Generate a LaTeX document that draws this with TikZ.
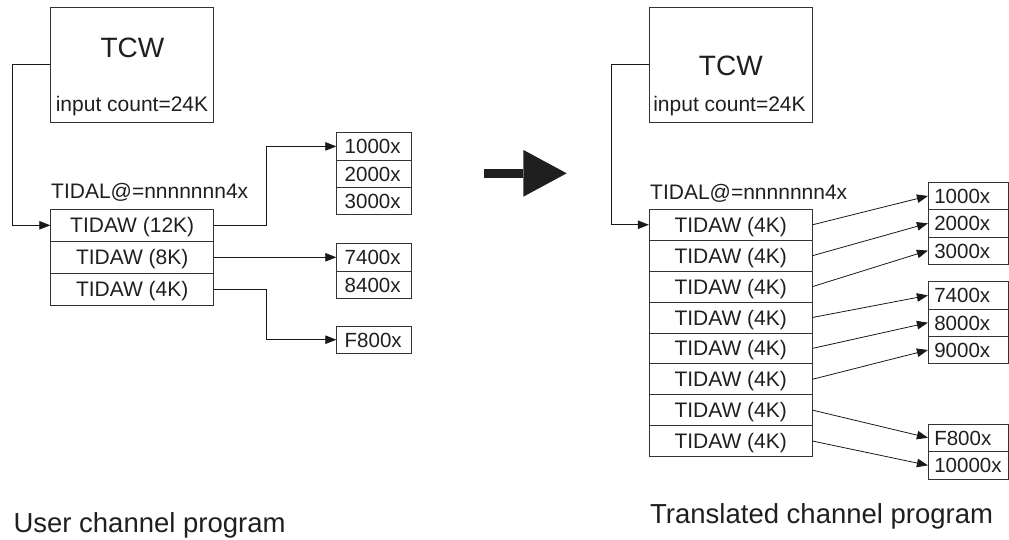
\documentclass[tikz,border=0pt]{standalone}
\usepackage{fontspec}
\setmainfont{Liberation Sans}
\usepackage{tikz}
\usetikzlibrary{arrows.meta}

\begin{document}
\begin{tikzpicture}[x=1pt, y=-1pt,
    txt/.style={font=\fontsize{21pt}{25pt}\selectfont, text=black!88, inner sep=0pt, text height=15.1pt, text depth=0pt},
    tcwname/.style={txt, font=\fontsize{28pt}{32pt}\selectfont, text height=20.2pt},
    caption/.style={txt, font=\fontsize{27.5pt}{32pt}\selectfont, text height=19.8pt},
    tcwbox/.style={draw=black!80, line width=0.8pt, minimum width=163pt, minimum height=114.7pt, inner sep=0pt},
    rowbox/.style={txt, draw=black!80, line width=0.8pt, minimum width=163pt},
    datbox/.style={draw=black!80, line width=0.8pt, font=\fontsize{20.5pt}{24pt}\selectfont, text=black!88, inner ysep=0pt, text height=14.8pt, text depth=0pt, minimum height=27.3pt, align=left},
    dataL/.style={datbox, inner xsep=8pt, text width=59pt},
    dataR/.style={datbox, inner xsep=6pt, text width=68pt},
    link/.style={-{Triangle[length=11pt, width=8.5pt]}, line width=0.8pt, black!90},
    bigarrow/.style={line width=9.4pt, black!88, -{Triangle[length=43.3pt, width=46.7pt, line width=0pt]}}
]
\useasboundingbox (0,0) rectangle (1009,539);

% user channel program
\node[tcwbox] (tcwL) at (132.2,64.7) {};
\node[tcwname] (tcwLname) at (132.5,47.5) {TCW};
\node[txt] (tcwLcount) at (132,103.8) {input count=24K};
\node[txt, anchor=west] (tidalL) at (51,191.2) {TIDAL@=nnnnnnn4x};
\foreach \i/\t in {1/TIDAW (12K), 2/TIDAW (8K), 3/TIDAW (4K)} { \node[rowbox, minimum height=32pt] (rowL\i) at (132.2,{209.3+32*\i-16}) {\t}; }
\foreach \i/\t/\y in {1/1000x/146.4, 2/2000x/173.7, 3/3000x/201, 4/7400x/257.3, 5/8400x/284.6, 6/F800x/339.7} { \node[dataL] (dL\i) at (374.2,\y) {\t}; }

\draw[link] (tcwL.west) -- ++(-38,0) |- (rowL1.west);
\draw[link] (rowL1.east) -- ++(52.3,0) |- (dL1.west);
\draw[link] (rowL2.east) -- (dL4.west);
\draw[link] (rowL3.east) -- ++(52.3,0) |- (dL6.west);

\node[caption, anchor=west] (capL) at (13.3,522.5) {User channel program};

% translation
\coordinate (bigfrom) at (484,173.3);
\coordinate (bigto) at (566.7,173.3);
\draw[bigarrow] (bigfrom) -- (bigto);

% translated channel program
\node[tcwbox] (tcwR) at (731,64.7) {};
\node[tcwname] (tcwRname) at (730.8,65) {TCW};
\node[txt] (tcwRcount) at (729.5,103.8) {input count=24K};
\node[txt, anchor=west] (tidalR) at (650,192.2) {TIDAL@=nnnnnnn4x};
\foreach \i in {1,...,8} { \node[rowbox, minimum height=30.9pt] (rowR\i) at (730.7,{209.3+30.9*\i-15.45}) {TIDAW (4K)}; }
\foreach \i/\t/\y in {1/1000x/196, 2/2000x/223.3, 3/3000x/250.6, 4/7400x/295.4, 5/8000x/322.7, 6/9000x/350, 7/F800x/437.7, 8/10000x/465.3} { \node[dataR] (dR\i) at (968.3,\y) {\t}; }

\draw[link] (tcwR.west) -- ++(-37.6,0) |- (rowR1.west);
\foreach \i in {1,...,8} { \draw[link] (rowR\i.east) -- (dR\i.west); }

\node[caption, anchor=west] (capR) at (650,513.3) {Translated channel program};

\end{tikzpicture}
\end{document}
